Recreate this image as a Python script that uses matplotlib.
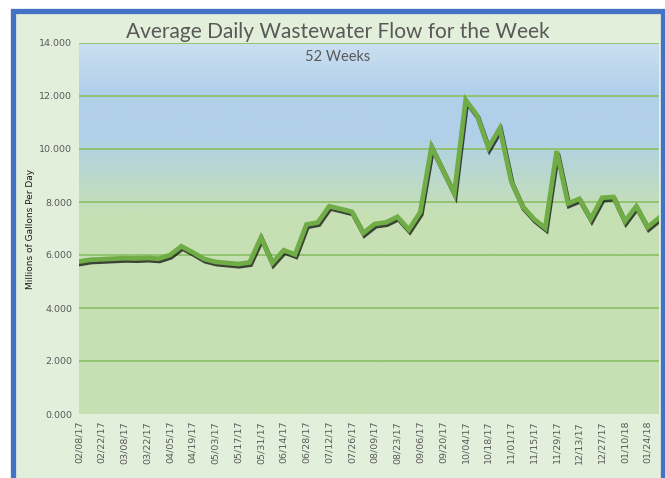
import matplotlib
matplotlib.use("Agg")
import matplotlib.pyplot as plt
import matplotlib.patheffects as pe
from matplotlib.colors import LinearSegmentedColormap
from matplotlib.patches import Rectangle
import numpy as np

# weekly averages, 02/08/17 .. 01/31/18 (52 weeks)
flow_mgd = [
    5.75, 5.82, 5.84, 5.86, 5.88, 5.87, 5.89, 5.86, 6.00, 6.33,
    6.10, 5.85, 5.74, 5.70, 5.66, 5.72, 6.66, 5.70, 6.18, 6.02,
    7.15, 7.23, 7.84, 7.74, 7.63, 6.83, 7.17, 7.23, 7.44, 6.96,
    7.61, 10.08, 9.20, 8.33, 11.85, 11.27, 10.05, 10.78, 8.79, 7.84,
    7.36, 7.02, 9.92, 7.94, 8.12, 7.36, 8.16, 8.19, 7.27, 7.84,
    7.05, 7.40,
]

# every second week is labelled
tick_labels = [
    "02/08/17", "02/22/17", "03/08/17", "03/22/17", "04/05/17", "04/19/17",
    "05/03/17", "05/17/17", "05/31/17", "06/14/17", "06/28/17", "07/12/17",
    "07/26/17", "08/09/17", "08/23/17", "09/06/17", "09/20/17", "10/04/17",
    "10/18/17", "11/01/17", "11/15/17", "11/29/17", "12/13/17", "12/27/17",
    "01/10/18", "01/24/18",
]

y_ticks = [0, 2, 4, 6, 8, 10, 12, 14]

C_BG     = "#E2EFDA"
C_BORDER = "#4472C4"
C_LINE   = "#70AD47"
C_GRID   = "#8DC26A"
C_TEXT   = "#595959"

W, H = 665, 478
fig = plt.figure(figsize=(W / 100, H / 100), dpi=100)
fig.patch.set_facecolor("white")

# panel background + blue frame
fig.patches.append(Rectangle((12.5 / W, -0.05), (662.5 - 12.5) / W, 1.05 - 11 / H,
                             transform=fig.transFigure, facecolor=C_BG,
                             edgecolor=C_BORDER, linewidth=3.8, zorder=-5))

ax = fig.add_axes([79 / W, 64 / H, 580 / W, 371 / H])
ax.set_zorder(2)
ax.set_facecolor("none")

x = np.arange(len(flow_mgd))
ax.set_xlim(0, len(flow_mgd) - 1)
ax.set_ylim(0, 14)

# vertical gradient fill: light blue at top -> blue -> green
grad = LinearSegmentedColormap.from_list("bg", [
    (0.0, "#C6E0B4"),
    (0.54, "#C6E0B4"),
    (0.70, "#B4D4DB"),
    (0.74, "#B1D0E8"),
    (0.86, "#B1CFEA"),
    (1.0, "#CBDFF1"),
])
ax.imshow(np.linspace(0, 1, 256).reshape(-1, 1), cmap=grad, aspect="auto",
          origin="lower", extent=(0, len(flow_mgd) - 1, 0, 14), zorder=0)

for yt in y_ticks[1:]:
    ax.axhline(yt, color=C_GRID, linewidth=1.3, zorder=1)

ax.plot(x, flow_mgd, color=C_LINE, linewidth=3.4, zorder=3,
        solid_joinstyle="miter",
        path_effects=[pe.SimpleLineShadow(offset=(0.8, -1.6), shadow_color="black",
                                          alpha=0.7, linewidth=3.4),
                      pe.Normal()])

for s in ax.spines.values():
    s.set_visible(False)

ax.set_yticks(y_ticks)
ax.set_yticklabels([f"{v:.3f}" for v in y_ticks], fontsize=6.8, color=C_TEXT)
ax.set_xticks(x[::2])
ax.set_xticklabels(tick_labels, rotation=90, fontsize=6.8, color=C_TEXT)
ax.tick_params(length=0, pad=5)
ax.set_ylabel("Millions of Gallons Per Day", fontsize=6.5, color="#1a1a1a", labelpad=3)

fig.text(338 / W, 1 - 32 / H, "Average Daily Wastewater Flow for the Week",
         ha="center", va="center", fontsize=15, color=C_TEXT, family="Lato")
fig.text(338 / W, 1 - 57 / H, "52 Weeks", ha="center", va="center",
         fontsize=10.5, color=C_TEXT, family="Lato")

fig.savefig("out.png", dpi=100, facecolor=fig.get_facecolor())
